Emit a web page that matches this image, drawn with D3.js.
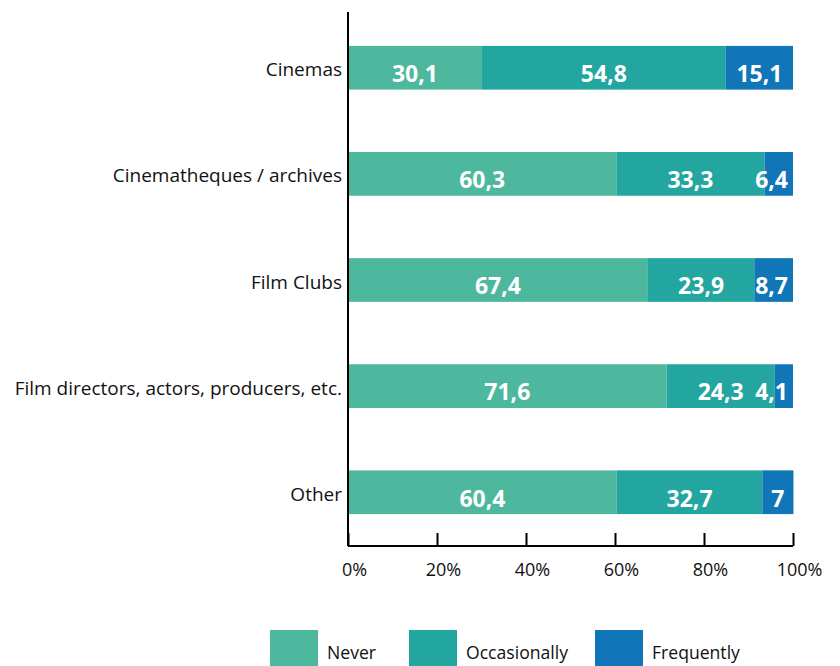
<!DOCTYPE html>
<html>
<head>
<meta charset="utf-8">
<script src="https://cdn.jsdelivr.net/npm/d3@7"></script>
<style>
  body { margin: 0; background: #fff; }
  svg { font-family: "Open Sans", "Noto Sans", sans-serif; }
</style>
</head>
<body>
<svg width="840" height="666"></svg>
<script>
var categories = ["Cinemas", "Cinematheques / archives", "Film Clubs", "Film directors, actors, producers, etc.", "Other"];
var series = ["Never", "Occasionally", "Frequently"];
var never = [30.1, 60.3, 67.4, 71.6, 60.4];
var occasionally = [54.8, 33.3, 23.9, 24.3, 32.7];
var frequently = [15.1, 6.4, 8.7, 4.1, 7];
var xTicks = [0, 20, 40, 60, 80, 100];
var colors = ["#4db89e", "#23a6a0", "#1076b8"];

var svg = d3.select("svg");
var mLeft = 348, mRight = 793, mTop = 13, mBottom = 546;

var data = categories.map(function(c, i) {
    return { cat: c, Never: never[i], Occasionally: occasionally[i], Frequently: frequently[i] };
});
var stacked = d3.stack().keys(series)(data);

var x = d3.scaleLinear().domain([0, 100]).range([mLeft, mRight]);
var y = d3.scaleBand().domain(categories).range([mTop, mBottom + 1])
    .paddingInner(0.588).paddingOuter(0.31);
var color = d3.scaleOrdinal().domain(series).range(colors);

// bars
var layer = svg.append("g").selectAll("g")
    .data(stacked)
    .enter().append("g")
    .attr("fill", function(d) { return color(d.key); });

layer.selectAll("rect")
    .data(function(d) { return d; })
    .enter().append("rect")
    .attr("x", function(d) { return x(d[0]); })
    .attr("y", function(d) { return y(d.data.cat); })
    .attr("width", function(d) { return x(d[1]) - x(d[0]); })
    .attr("height", y.bandwidth());

// value labels
stacked.forEach(function(s) {
    s.forEach(function(d) {
        var v = Math.round((d[1] - d[0]) * 10) / 10;
        var txt = String(v).replace(".", ",");
        var cx = (x(d[0]) + x(d[1])) / 2;
        var t = svg.append("text")
            .attr("y", y(d.data.cat) + y.bandwidth() / 2)
            .attr("dy", "0.62em")
            .attr("fill", "#fff")
            .attr("font-weight", "bold")
            .attr("font-size", "23px")
            .attr("text-anchor", "middle")
            .attr("x", cx)
            .text(txt);
        var w = t.node().getComputedTextLength();
        if (cx + w / 2 > x(100) - 6) {
            t.attr("text-anchor", "end").attr("x", x(100) - 5);
        }
    });
});

// y axis line + category labels
svg.append("line")
    .attr("x1", mLeft).attr("x2", mLeft)
    .attr("y1", mTop - 1).attr("y2", mBottom)
    .attr("stroke", "#000").attr("stroke-width", 2);

svg.append("g").selectAll("text")
    .data(categories)
    .enter().append("text")
    .attr("x", mLeft - 6)
    .attr("y", function(d) { return y(d) + y.bandwidth() / 2; })
    .attr("dy", "0.45em")
    .attr("text-anchor", "end")
    .attr("font-size", "19px")
    .attr("fill", "#111")
    .text(function(d) { return d; });

// x axis
var xaxis = svg.append("g")
    .attr("transform", "translate(0," + mBottom + ")")
    .call(d3.axisBottom(x).tickValues(xTicks).tickSize(-13).tickPadding(14)
        .tickFormat(function(d) { return d + "%"; }));
xaxis.select(".domain").attr("stroke", "#000").attr("stroke-width", 2).attr("d", "M" + mLeft + ",0H" + mRight);
xaxis.selectAll(".tick line").attr("stroke", "#000").attr("stroke-width", 2);
xaxis.selectAll(".tick text")
    .attr("font-size", "18px")
    .attr("font-family", "'Open Sans', sans-serif")
    .attr("fill", "#111")
    .attr("dx", 6)
    .attr("dy", "0.9em");

// legend
var legendX = [270, 409, 595];
var legend = svg.append("g").selectAll("g")
    .data(series)
    .enter().append("g")
    .attr("transform", function(d, i) { return "translate(" + legendX[i] + ",630)"; });
legend.append("rect")
    .attr("width", 48).attr("height", 40)
    .attr("fill", function(d) { return color(d); });
legend.append("text")
    .attr("x", 57).attr("y", 29)
    .attr("font-size", "17.6px")
    .attr("fill", "#111")
    .text(function(d) { return d; });
</script>
</body>
</html>
